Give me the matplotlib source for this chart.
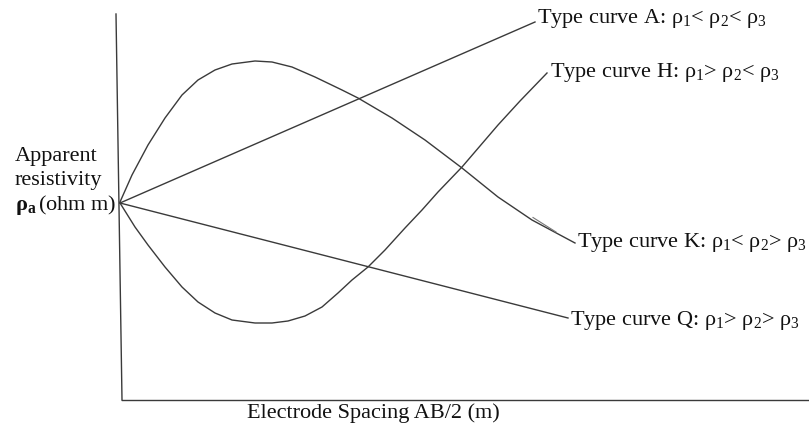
import matplotlib.pyplot as plt

plt.rcParams['font.family'] = ['Liberation Serif', 'DejaVu Serif']
plt.rcParams['mathtext.fontset'] = 'custom'
plt.rcParams['mathtext.rm'] = 'Liberation Serif'
plt.rcParams['mathtext.it'] = 'Liberation Serif:italic'
plt.rcParams['mathtext.bf'] = 'Liberation Serif:bold'

# sketch coordinates (picture pixels, y grows downward)
axis_y_x = [116, 122]
axis_y_y = [14, 400]
axis_x_x = [122, 809]
axis_x_y = [400, 400]

curve_a_x = [120, 535]
curve_a_y = [203, 22]

curve_q_x = [120, 568]
curve_q_y = [203, 318]

curve_k_x = [120, 132, 148, 165, 182, 198, 215, 232, 255, 272, 292, 315, 342, 358, 392, 425, 462, 498, 532, 575]
curve_k_y = [202, 175, 145, 118, 95, 80, 70, 64, 61, 62, 67, 77, 90, 98, 118, 140, 168, 197, 220, 243]

# short doubled stroke on the K leader
k_tick_x = [533, 556]
k_tick_y = [217.5, 232]

curve_h_x = [120, 135, 148, 165, 182, 198, 215, 232, 255, 272, 288, 305, 322, 338, 352, 368, 385, 405, 422,
             438, 462, 480, 498, 520, 547]
curve_h_y = [203, 227, 245, 267, 287, 302, 313, 320, 323, 323, 321, 316, 307, 293, 280, 267, 250, 228, 210,
             192, 167, 146, 125, 101, 73]

labels = ['Type curve A: ρ$_1$< ρ$_2$< ρ$_3$',
          'Type curve H: ρ$_1$> ρ$_2$< ρ$_3$',
          'Type curve K: ρ$_1$< ρ$_2$> ρ$_3$',
          'Type curve Q: ρ$_1$> ρ$_2$> ρ$_3$']
label_x = [537, 550, 577, 570]
label_y = [18, 73, 242, 320]

ylabel_lines = ['Apparent', 'resistivity', r'$\mathbf{\rho_a}\,$(ohm m)']
ylabel_y = [157, 181, 205]
xlabel = 'Electrode Spacing AB/2 (m)'

fig = plt.figure(figsize=(8.09, 4.29), dpi=100)
ax = fig.add_axes([0, 0, 1, 1])
ax.set_xlim(0, 809)
ax.set_ylim(429, 0)
ax.axis('off')

lc = '#3a3a3a'
lw = 1.0
ax.plot(axis_y_x, axis_y_y, color=lc, lw=lw)
ax.plot(axis_x_x, axis_x_y, color=lc, lw=lw)
ax.plot(curve_a_x, curve_a_y, color=lc, lw=lw)
ax.plot(curve_q_x, curve_q_y, color=lc, lw=lw)
ax.plot(curve_k_x, curve_k_y, color=lc, lw=lw, solid_joinstyle='round')
ax.plot(k_tick_x, k_tick_y, color='#777777', lw=0.8)
ax.plot(curve_h_x, curve_h_y, color=lc, lw=lw, solid_joinstyle='round')

for txt, x, y in zip(labels, label_x, label_y):
    ax.text(x, y, txt, fontsize=16, ha='left', va='center', color='#111111')

for txt, y in zip(ylabel_lines, ylabel_y):
    ax.text(15, y, txt, fontsize=16, ha='left', va='center', color='#111111')

ax.text(373, 413, xlabel, fontsize=16, ha='center', va='center', color='#111111')

fig.savefig('out.png', dpi=100)
